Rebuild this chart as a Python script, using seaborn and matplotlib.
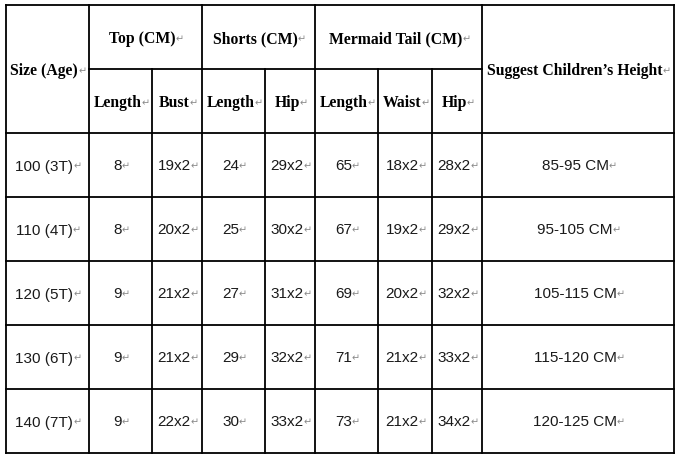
"""Tabla de tallas del disfraz de sirena."""

import matplotlib

matplotlib.use("Agg")
import matplotlib.pyplot as plt
import seaborn as sns


sizes = ["100 (3T)", "110 (4T)", "120 (5T)", "130 (6T)", "140 (7T)"]
top_length = ["8", "8", "9", "9", "9"]
top_bust = ["19x2", "20x2", "21x2", "21x2", "22x2"]
shorts_length = ["24", "25", "27", "29", "30"]
shorts_hip = ["29x2", "30x2", "31x2", "32x2", "33x2"]
tail_length = ["65", "67", "69", "71", "73"]
tail_waist = ["18x2", "19x2", "20x2", "21x2", "21x2"]
tail_hip = ["28x2", "29x2", "32x2", "33x2", "34x2"]
heights = ["85-95 CM", "95-105 CM", "105-115 CM", "115-120 CM", "120-125 CM"]

groups = ["Top (CM)", "Shorts (CM)", "Mermaid Tail (CM)"]
sub_headers = ["Length", "Bust", "Length", "Hip", "Length", "Waist", "Hip"]

# bordes de columnas y filas en pixeles
col_edges = [5.5, 89, 152, 202, 265, 315, 378, 432, 482, 674]
row_edges = [5, 69, 133, 197, 261, 325, 389, 453]
group_spans = [(1, 3), (3, 5), (5, 8)]

sns.set_style("white")
plt.rcParams["font.family"] = ["Liberation Sans", "DejaVu Sans"]

fig = plt.figure(figsize=(6.78, 4.59), dpi=100)
ax = fig.add_axes([0, 0, 1, 1])
ax.set_xlim(0, 678)
ax.set_ylim(459, 0)
ax.axis("off")

line_kw = dict(color="black", linewidth=1.3, solid_capstyle="projecting")
left, right = col_edges[0], col_edges[-1]
top, bottom = row_edges[0], row_edges[-1]

# lineas horizontales
ax.plot([left, right], [top, top], **line_kw)
ax.plot([col_edges[1], col_edges[8]], [row_edges[1], row_edges[1]], **line_kw)
for y in row_edges[2:]:
    ax.plot([left, right], [y, y], **line_kw)

# lineas verticales
for i, x in enumerate(col_edges):
    if i in (0, 1, 3, 5, 8, 9):
        ax.plot([x, x], [top, bottom], **line_kw)
    else:
        ax.plot([x, x], [row_edges[1], bottom], **line_kw)


def cell_text(x, y, text, bold=False, size=11):
    style = dict(
        ha="center",
        va="center_baseline",
        fontsize=size,
        color="black" if bold else "#1a1a1a",
    )
    if bold:
        style["family"] = ["Liberation Serif", "DejaVu Serif"]
        style["fontweight"] = "bold"
    label = ax.text(x - 3, y, text, **style)
    ax.annotate(
        "\u21b5",
        xy=(1.0, 0.5),
        xycoords=label,
        ha="left",
        va="center",
        fontsize=7,
        color="#8a8a8a",
        family="DejaVu Sans",
    )


def mid(a, b):
    return (a + b) / 2


header_size = 11.3
cell_text(mid(col_edges[0], col_edges[1]), mid(row_edges[0], row_edges[2]),
          "Size (Age)", bold=True, size=header_size)
cell_text(mid(col_edges[8], col_edges[9]), mid(row_edges[0], row_edges[2]),
          "Suggest Children\u2019s Height", bold=True, size=header_size)
for name, (c0, c1) in zip(groups, group_spans):
    cell_text(mid(col_edges[c0], col_edges[c1]), mid(row_edges[0], row_edges[1]),
              name, bold=True, size=header_size)
for j, name in enumerate(sub_headers):
    cell_text(mid(col_edges[j + 1], col_edges[j + 2]), mid(row_edges[1], row_edges[2]),
              name, bold=True, size=header_size)

columns = [sizes, top_length, top_bust, shorts_length, shorts_hip,
           tail_length, tail_waist, tail_hip, heights]
for j, values in enumerate(columns):
    for i, value in enumerate(values):
        cell_text(mid(col_edges[j], col_edges[j + 1]),
                  mid(row_edges[i + 2], row_edges[i + 3]), value)

fig.savefig("out.png", dpi=100, facecolor="white")
plt.close(fig)
